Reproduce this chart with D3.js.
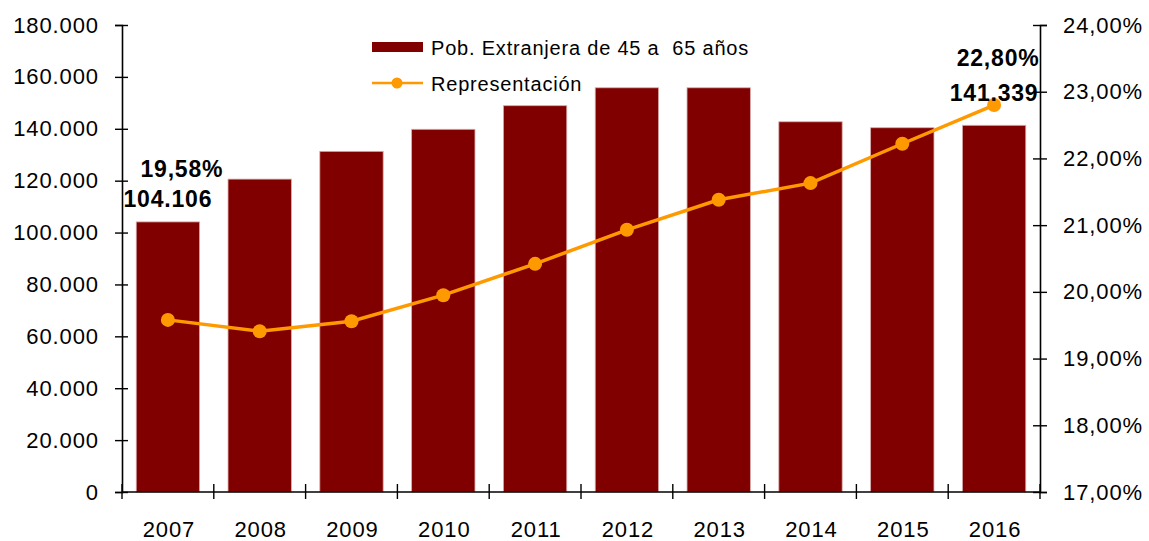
<!DOCTYPE html>
<html>
<head>
<meta charset="utf-8">
<script src="https://cdn.jsdelivr.net/npm/d3@7"></script>
<style>
	body { margin: 0; background: #fff; }
	svg { display: block; font-family: "Liberation Sans", Arial, sans-serif; }
</style>
</head>
<body>
<svg width="1149" height="541"></svg>
<script>
/*
Chart data
*/

const years = ['2007', '2008', '2009', '2010', '2011', '2012', '2013', '2014', '2015', '2016'];
const poblacion = [104106, 120600, 131300, 139800, 148900, 155800, 155800, 142700, 140400, 141339];
const representacion = [0.1958, 0.1941, 0.1956, 0.1995, 0.2042, 0.2093, 0.2138, 0.2163, 0.2222, 0.2280];
const leftTicks = [0, 20000, 40000, 60000, 80000, 100000, 120000, 140000, 160000, 180000];
const rightTicks = [0.17, 0.18, 0.19, 0.20, 0.21, 0.22, 0.23, 0.24];
const seriesNames = ['Pob. Extranjera de 45 a  65 años', 'Representación'];

/*
Colors
*/

const barColor = '#800000';
const lineColor = '#ff9900';

var svg = d3.select('svg');

var plotLeft = 122,
	plotRight = 1040,
	plotTop = 25,
	plotBottom = 492;

// spanish number format
var es = d3.formatLocale({ decimal: ',', thousands: '.', grouping: [3], currency: ['', ' €'] });
var fmtNum = es.format(',.0f');
var fmtPct = es.format('.2%');

var x = d3.scaleBand()
	.domain(years)
	.range([plotLeft, plotRight])
	.paddingInner(0.31)
	.paddingOuter(0.155);

var yLeft = d3.scaleLinear().domain([0, 180000]).range([plotBottom, plotTop]);
var yRight = d3.scaleLinear().domain([0.17, 0.24]).range([plotBottom, plotTop]);

/*
Bars
*/

svg.append('g')
	.selectAll('rect')
	.data(poblacion)
	.enter().append('rect')
		.attr('x', function(d, i){ return x(years[i]); })
		.attr('y', function(d){ return yLeft(d); })
		.attr('width', x.bandwidth())
		.attr('height', function(d){ return yLeft(0) - yLeft(d); })
		.attr('fill', barColor)
		.attr('stroke', '#d9aaaa')
		.attr('stroke-width', 0.8);

/*
Axes
*/

var axisLeft = svg.append('g')
	.attr('transform', 'translate(' + plotLeft + ',0)')
	.call(d3.axisLeft(yLeft).tickValues(leftTicks).tickFormat(fmtNum).tickSize(7).tickPadding(0));
axisLeft.selectAll('.tick line').attr('x2', 6).attr('x1', -7);
axisLeft.selectAll('.tick text').attr('x', -23);

var axisRight = svg.append('g')
	.attr('transform', 'translate(' + plotRight + ',0)')
	.call(d3.axisRight(yRight).tickValues(rightTicks).tickFormat(fmtPct).tickSize(7).tickPadding(0));
axisRight.selectAll('.tick line').attr('x1', -7).attr('x2', 7);
axisRight.selectAll('.tick text').attr('x', 23);

// category boundaries for the x ticks
var boundaries = years.map(function(d){ return x(d) - x.step() * x.paddingInner() / 2; });
boundaries[0] = plotLeft;
boundaries.push(plotRight);

var axisBottom = svg.append('g')
	.attr('transform', 'translate(0,' + plotBottom + ')');
axisBottom.append('line')
	.attr('x1', plotLeft).attr('x2', plotRight)
	.attr('stroke', '#000').attr('stroke-width', 1.6);
axisBottom.selectAll('line.tk')
	.data(boundaries)
	.enter().append('line')
		.attr('class', 'tk')
		.attr('x1', function(d){ return d; })
		.attr('x2', function(d){ return d; })
		.attr('y1', -8).attr('y2', 7)
		.attr('stroke', '#000').attr('stroke-width', 1.4);
axisBottom.selectAll('text')
	.data(years)
	.enter().append('text')
		.attr('x', function(d){ return x(d) + x.bandwidth() / 2 + 1; })
		.attr('y', 45)
		.attr('text-anchor', 'middle')
		.text(function(d){ return d; });

svg.selectAll('.domain').attr('stroke', '#000').attr('stroke-width', 1.6);
svg.selectAll('.tick line').attr('stroke', '#000').attr('stroke-width', 1.4);
svg.selectAll('text')
	.attr('font-size', 22)
	.attr('letter-spacing', 0.9)
	.attr('fill', '#000')
	.attr('font-family', '"Liberation Sans", Arial, sans-serif');

/*
Line series
*/

var line = d3.line()
	.x(function(d, i){ return x(years[i]) + x.bandwidth() / 2; })
	.y(function(d){ return yRight(d); });

svg.append('path')
	.datum(representacion)
	.attr('d', line)
	.attr('fill', 'none')
	.attr('stroke', lineColor)
	.attr('stroke-width', 3.5);

svg.append('g')
	.selectAll('circle')
	.data(representacion)
	.enter().append('circle')
		.attr('cx', function(d, i){ return x(years[i]) + x.bandwidth() / 2; })
		.attr('cy', function(d){ return yRight(d); })
		.attr('r', 7)
		.attr('fill', lineColor);

/*
Data labels for first and last year
*/

var labels = [
	{ i: 0, text: fmtPct(representacion[0]), y: yLeft(poblacion[0]) - 45, dx: 14 },
	{ i: 0, text: fmtNum(poblacion[0]), y: yLeft(poblacion[0]) - 15, dx: 0 },
	{ i: 9, text: fmtPct(representacion[9]), y: yLeft(poblacion[9]) - 59, dx: 4 },
	{ i: 9, text: fmtNum(poblacion[9]), y: yLeft(poblacion[9]) - 24, dx: 0 }
];

svg.append('g')
	.selectAll('text')
	.data(labels)
	.enter().append('text')
		.attr('x', function(d){ return x(years[d.i]) + x.bandwidth() / 2 + d.dx; })
		.attr('y', function(d){ return d.y; })
		.attr('text-anchor', 'middle')
		.attr('font-size', 23)
		.attr('font-weight', 'bold')
		.attr('letter-spacing', 0.8)
		.attr('fill', '#000')
		.text(function(d){ return d.text; });

/*
Legend
*/

var legend = svg.append('g').attr('font-size', 20).attr('letter-spacing', 0.8).attr('fill', '#000');

legend.append('rect')
	.attr('x', 372).attr('y', 42)
	.attr('width', 51).attr('height', 10)
	.attr('fill', barColor);
legend.append('text')
	.attr('x', 431).attr('y', 55)
	.style('white-space', 'pre')
	.text(seriesNames[0]);

legend.append('line')
	.attr('x1', 372).attr('x2', 423)
	.attr('y1', 83).attr('y2', 83)
	.attr('stroke', lineColor).attr('stroke-width', 2.5);
legend.append('circle')
	.attr('cx', 397).attr('cy', 83).attr('r', 5.5)
	.attr('fill', lineColor);
legend.append('text')
	.attr('x', 431).attr('y', 91)
	.text(seriesNames[1]);
</script>
</body>
</html>
